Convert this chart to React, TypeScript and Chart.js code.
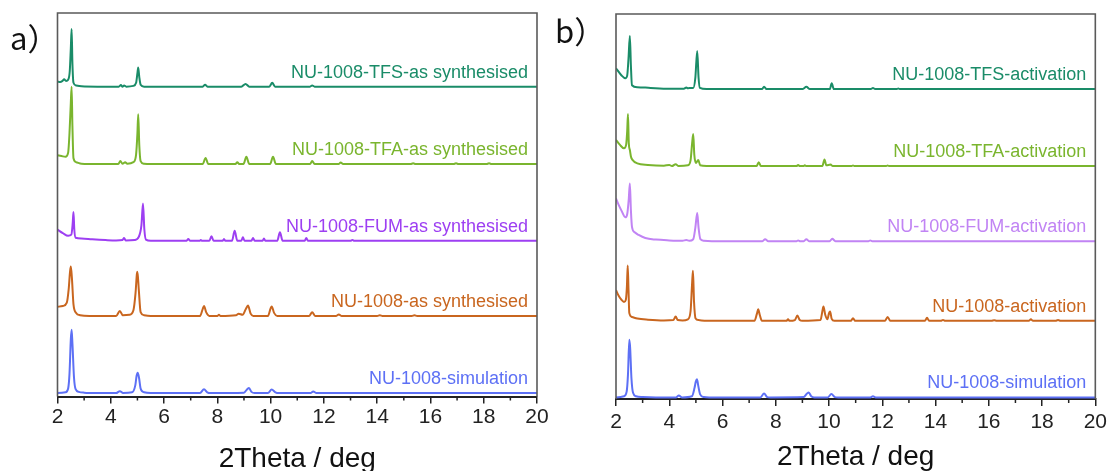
import React, { useEffect, useRef } from "react";
import { Chart, registerables } from "chart.js";

Chart.register(...registerables);

type Pt = [number, number];

// ---------- shared axis values ----------
const xMin = 2;
const xMax = 20;
const xStep = 2;
const xTitle = "2Theta / deg";

// ---------- panel a : as synthesised ----------
const panelALetter = "a）";
const namesA = [
  "NU-1008-TFS-as synthesised",
  "NU-1008-TFA-as synthesised",
  "NU-1008-FUM-as synthesised",
  "NU-1008-as synthesised",
  "NU-1008-simulation",
];
const colorsA = ["#1a8c68", "#7ab52e", "#9d3ff2", "#c9661f", "#5d70f5"];
const offsetsA = [80.8, 60.6, 40.6, 21.0, 0.9];

const aTFS: Pt[] = [
  [2.0, 1.3], [2.1, 1.2], [2.19, 1.5], [2.25, 1.9], [2.32, 1.5], [2.4, 1.8], [2.46, 4.0], [2.5, 10], [2.53, 15.0],
  [2.56, 6], [2.6, 1.0], [2.7, 0.3], [2.9, 0.1], [3.5, 0], [4.3, 0], [4.38, 0.4], [4.44, 0], [4.5, 0.3], [4.58, 0],
  [4.85, 0.2], [4.95, 1.0], [5.0, 3.5], [5.03, 5.0], [5.07, 2.5], [5.12, 0.5], [5.25, 0], [7.45, 0], [7.54, 0.5],
  [7.63, 0], [8.9, 0], [9.06, 0.7], [9.2, 0], [9.95, 0], [10.06, 1.0], [10.17, 0], [11.48, 0], [11.56, 0.3],
  [11.65, 0], [20, 0],
];
const aTFA: Pt[] = [
  [2.0, 2.3], [2.15, 2.1], [2.3, 1.9], [2.4, 3.0], [2.45, 8], [2.5, 16], [2.53, 20.2], [2.56, 10], [2.6, 1.5],
  [2.7, 0.5], [2.9, 0.1], [3.5, 0], [4.28, 0], [4.36, 0.8], [4.44, 0.1], [4.54, 0.5], [4.62, 0.1], [4.85, 0.5],
  [4.95, 2.5], [5.0, 8], [5.03, 13.0], [5.07, 5], [5.12, 0.8], [5.25, 0.1], [5.5, 0], [7.45, 0], [7.56, 1.6],
  [7.66, 0], [8.68, 0], [8.75, 0.5], [8.82, 0], [8.98, 0], [9.09, 1.9], [9.2, 0], [9.98, 0], [10.09, 1.9],
  [10.2, 0], [11.48, 0], [11.56, 0.8], [11.65, 0], [12.55, 0], [12.63, 0.4], [12.72, 0], [15.25, 0],
  [15.35, 0.2], [15.45, 0], [16.86, 0], [16.96, 0.2], [17.06, 0], [18.1, 0], [18.2, 0.2], [18.3, 0], [20, 0],
];
const aFUM: Pt[] = [
  [2.0, 2.9], [2.2, 2.0], [2.4, 1.3], [2.52, 1.6], [2.57, 4.5], [2.6, 7.5], [2.63, 3], [2.68, 0.8], [2.9, 0.6],
  [3.3, 0.4], [3.8, 0.2], [4.2, 0.1], [4.44, 0.2], [4.5, 0.7], [4.56, 0.1], [4.9, 0.2], [5.05, 1.0], [5.15, 4],
  [5.21, 9.7], [5.26, 3], [5.32, 0.3], [5.5, 0], [6.85, 0], [6.91, 0.5], [6.97, 0], [7.33, 0], [7.38, 0.2],
  [7.43, 0], [7.7, 0], [7.78, 1.2], [7.86, 0], [8.2, 0], [8.25, 0.5], [8.3, 0], [8.55, 0], [8.65, 2.6],
  [8.75, 0], [8.9, 0], [8.96, 0.9], [9.02, 0], [9.28, 0], [9.34, 0.7], [9.4, 0], [9.7, 0], [9.75, 0.6],
  [9.8, 0], [10.25, 0], [10.35, 2.2], [10.45, 0], [11.28, 0], [11.34, 0.7], [11.4, 0], [13.0, 0],
  [13.07, 0.2], [13.14, 0], [20, 0],
];
const aAS: Pt[] = [
  [2.0, 2.4], [2.2, 2.6], [2.35, 3.5], [2.42, 7], [2.47, 11.5], [2.5, 12.9], [2.54, 10], [2.6, 3], [2.7, 0.8],
  [2.85, 0.2], [3.2, 0], [4.2, 0], [4.34, 1.3], [4.45, 0.2], [4.7, 0.3], [4.85, 1.5], [4.93, 6], [4.98, 11.0],
  [5.0, 11.5], [5.05, 7], [5.12, 1], [5.25, 0.2], [5.5, 0], [7.35, 0], [7.45, 1.8], [7.5, 2.6], [7.58, 1.0],
  [7.7, 0], [8.0, 0], [8.06, 0.3], [8.12, 0], [8.7, 0.2], [8.8, 0.6], [8.95, 0.3], [9.07, 1.8], [9.15, 2.7],
  [9.25, 0.6], [9.35, 0], [9.9, 0], [10.0, 2.0], [10.04, 2.5], [10.13, 0.8], [10.25, 0], [11.45, 0],
  [11.56, 1.0], [11.67, 0], [12.45, 0], [12.56, 0.4], [12.67, 0], [14.0, 0], [14.1, 0.2], [14.2, 0],
  [15.3, 0], [15.4, 0.2], [15.5, 0], [20, 0],
];
const aSIM: Pt[] = [
  [2.0, 0], [2.3, 0.2], [2.4, 1.2], [2.45, 5], [2.5, 14], [2.53, 16.5], [2.56, 13], [2.62, 4], [2.68, 1],
  [2.8, 0.3], [3.0, 0.1], [3.5, 0], [4.2, 0], [4.34, 0.5], [4.46, 0], [4.8, 0.2], [4.92, 2], [4.97, 4.5],
  [5.01, 5.3], [5.06, 4], [5.12, 1.2], [5.25, 0.2], [5.5, 0], [7.35, 0], [7.5, 1.0], [7.62, 0.2], [7.75, 0],
  [9.0, 0.1], [9.12, 1.0], [9.19, 1.3], [9.28, 0.3], [9.4, 0], [9.9, 0], [10.04, 0.9], [10.18, 0.2],
  [10.3, 0], [11.5, 0], [11.6, 0.4], [11.72, 0], [20, 0],
];

// ---------- panel b : activation ----------
const panelBLetter = "b）";
const namesB = [
  "NU-1008-TFS-activation",
  "NU-1008-TFA-activation",
  "NU-1008-FUM-activation",
  "NU-1008-activation",
  "NU-1008-simulation",
];
const colorsB = ["#1a8c68", "#7ab52e", "#c184f4", "#c9661f", "#5d70f5"];
const offsetsB = [80.5, 60.5, 41.0, 20.3, 0.4];

const bTFS: Pt[] = [
  [2.0, 5.4], [2.2, 3.6], [2.35, 2.8], [2.42, 3.5], [2.47, 8], [2.52, 13.8], [2.56, 6], [2.6, 1.0], [2.8, 0.5],
  [3.3, 0.3], [4.0, 0.1], [4.55, 0.1], [4.64, 0.4], [4.7, 0.2], [4.75, 0.3], [4.9, 0.3], [4.98, 3],
  [5.05, 9.9], [5.1, 3], [5.15, 0.3], [5.4, 0], [7.48, 0], [7.56, 0.6], [7.65, 0], [9.0, 0], [9.15, 0.6],
  [9.28, 0], [10.03, 0], [10.1, 1.5], [10.18, 0], [11.57, 0], [11.65, 0.3], [11.73, 0], [12.55, 0],
  [12.6, 0.15], [12.65, 0], [20, 0],
];
const bTFA: Pt[] = [
  [2.0, 6.8], [2.15, 5.5], [2.3, 4.6], [2.38, 5.5], [2.42, 9], [2.45, 13.5], [2.48, 6], [2.52, 4.2],
  [2.56, 2.5], [2.62, 1.6], [2.8, 0.7], [3.2, 0.3], [3.8, 0.1], [4.0, 0.3], [4.1, 0], [4.24, 0.5], [4.35, 0],
  [4.7, 0.2], [4.8, 1.5], [4.86, 6], [4.9, 8.3], [4.94, 3], [5.0, 0.8], [5.09, 1.6], [5.16, 0.2], [5.4, 0],
  [7.28, 0], [7.36, 1.0], [7.44, 0], [8.78, 0], [8.84, 0.3], [8.9, 0], [9.04, 0], [9.09, 0.2], [9.15, 0],
  [9.75, 0], [9.83, 1.7], [9.9, 0.2], [10.06, 0.4], [10.14, 0], [10.85, 0], [10.9, 0.15], [10.95, 0],
  [12.15, 0], [12.2, 0.15], [12.25, 0], [20, 0],
];
const bFUM: Pt[] = [
  [2.0, 11.1], [2.1, 9.4], [2.2, 8], [2.35, 6.2], [2.42, 7], [2.48, 11], [2.52, 15.0], [2.56, 8], [2.6, 3.7],
  [2.7, 2.3], [2.85, 1.6], [3.1, 0.8], [3.5, 0.4], [4.0, 0.2], [4.5, 0.1], [4.64, 0.3], [4.75, 0.1],
  [4.9, 0.5], [4.98, 3.5], [5.05, 7.3], [5.1, 3.5], [5.17, 0.5], [5.3, 0.1], [5.6, 0], [7.5, 0], [7.6, 0.5],
  [7.72, 0], [8.78, 0], [8.84, 0.2], [8.92, 0], [9.05, 0], [9.15, 0.5], [9.25, 0], [10.02, 0], [10.12, 0.6],
  [10.24, 0], [11.48, 0], [11.55, 0.2], [11.62, 0], [20, 0],
];
const bACT: Pt[] = [
  [2.0, 8.0], [2.1, 6.5], [2.2, 5.5], [2.3, 4.9], [2.37, 5.5], [2.41, 9], [2.44, 14.4], [2.47, 8], [2.5, 2.0],
  [2.6, 1.0], [2.8, 0.6], [3.2, 0.3], [3.8, 0.1], [4.15, 0.2], [4.24, 1.1], [4.32, 0.2], [4.5, 0.1],
  [4.7, 0.4], [4.8, 2.5], [4.86, 10], [4.89, 13.0], [4.93, 5], [4.99, 0.6], [5.1, 0.2], [5.4, 0], [7.2, 0],
  [7.29, 1.8], [7.34, 3.0], [7.4, 1.5], [7.48, 0], [8.4, 0], [8.46, 0.4], [8.52, 0], [8.72, 0.2], [8.81, 1.4],
  [8.9, 0.2], [9.0, 0], [9.68, 0.2], [9.75, 2.5], [9.79, 3.7], [9.86, 1.5], [9.94, 0.4], [10.0, 2.0],
  [10.04, 2.4], [10.1, 0.5], [10.2, 0], [10.82, 0], [10.9, 0.7], [10.98, 0], [12.1, 0], [12.2, 1.0], [12.3, 0],
  [13.6, 0], [13.68, 0.8], [13.76, 0], [14.2, 0], [14.28, 0.2], [14.36, 0], [16.1, 0], [16.2, 0.15], [16.3, 0],
  [17.5, 0], [17.58, 0.4], [17.66, 0], [18.5, 0], [18.6, 0.2], [18.7, 0], [20, 0],
];
const bSIM: Pt[] = [
  [2.0, 0], [2.3, 0.3], [2.4, 1.5], [2.45, 6], [2.5, 15.0], [2.53, 13], [2.58, 5], [2.64, 1.2], [2.75, 0.3],
  [3.0, 0.1], [3.5, 0], [4.25, 0], [4.36, 0.5], [4.48, 0], [4.85, 0.3], [4.95, 2.5], [5.0, 4.2], [5.04, 4.7],
  [5.09, 3], [5.16, 0.8], [5.3, 0.1], [5.5, 0], [7.42, 0], [7.56, 1.0], [7.68, 0.1], [7.8, 0], [9.05, 0.1],
  [9.17, 1.0], [9.24, 1.3], [9.33, 0.3], [9.45, 0], [9.95, 0], [10.09, 0.9], [10.22, 0.1], [10.35, 0],
  [11.55, 0], [11.65, 0.3], [11.75, 0], [20, 0],
];

const seriesA = [aTFS, aTFA, aFUM, aAS, aSIM];
const seriesB = [bTFS, bTFA, bFUM, bACT, bSIM];

const SANS = '"Liberation Sans", Arial, sans-serif';

type PanelProps = {
  left: number;
  width: number;
  height: number;
  pad: { left: number; right: number; top: number };
  axisHeight: number;
  tickPad: number;
  titlePad: number;
  letter: string;
  letterPos: [number, number];
  names: string[];
  colors: string[];
  offsets: number[];
  series: Pt[][];
};

function Panel(p: PanelProps) {
  const ref = useRef<HTMLCanvasElement | null>(null);
  useEffect(() => {
    if (!ref.current) return;
    const decor = {
      id: "decor",
      afterDatasetsDraw(chart: any) {
        const { ctx, scales } = chart;
        const xs = scales.x;
        const ys = scales.y;
        ctx.save();
        ctx.font = `18px ${SANS}`;
        ctx.textAlign = "right";
        ctx.textBaseline = "alphabetic";
        p.names.forEach((n, i) => {
          ctx.fillStyle = p.colors[i];
          ctx.fillText(n, xs.getPixelForValue(xMax) - 9, ys.getPixelForValue(p.offsets[i]) - 9);
        });
        ctx.restore();
      },
      afterDraw(chart: any) {
        const { ctx, chartArea, scales } = chart;
        const xs = scales.x;
        ctx.save();
        ctx.strokeStyle = "#5a5a5a";
        ctx.lineWidth = 1.6;
        ctx.beginPath();
        ctx.moveTo(chartArea.left, chartArea.bottom);
        ctx.lineTo(chartArea.left, chartArea.top);
        ctx.lineTo(chartArea.right, chartArea.top);
        ctx.lineTo(chartArea.right, chartArea.bottom);
        ctx.stroke();
        ctx.strokeStyle = "#222";
        ctx.lineWidth = 1.5;
        for (let v = xMin + xStep / 2; v < xMax; v += xStep) {
          const px = xs.getPixelForValue(v);
          ctx.beginPath();
          ctx.moveTo(px, chartArea.bottom);
          ctx.lineTo(px, chartArea.bottom + 4);
          ctx.stroke();
        }
        ctx.fillStyle = "#111";
        ctx.font = '31px "Noto Sans CJK SC", "Noto Sans", sans-serif';
        ctx.textAlign = "left";
        ctx.textBaseline = "alphabetic";
        ctx.fillText(p.letter, p.letterPos[0], p.letterPos[1]);
        ctx.restore();
      },
    };
    const chart = new Chart(ref.current, {
      type: "line",
      data: {
        datasets: p.series.map((s, i) => ({
          label: p.names[i],
          data: s.map(([x, y]) => ({ x, y: y + p.offsets[i] })),
          borderColor: p.colors[i],
          borderWidth: 2,
          pointRadius: 0,
          cubicInterpolationMode: "monotone",
          fill: false,
        })),
      },
      options: {
        animation: false,
        responsive: false,
        maintainAspectRatio: false,
        layout: { padding: { left: p.pad.left, right: p.pad.right, top: p.pad.top, bottom: 0 } },
        plugins: { legend: { display: false }, tooltip: { enabled: false } },
        scales: {
          x: {
            type: "linear",
            min: xMin,
            max: xMax,
            ticks: {
              stepSize: xStep,
              autoSkip: false,
              maxRotation: 0,
              padding: p.tickPad,
              color: "#222",
              font: { family: SANS, size: 21 },
            },
            grid: { drawOnChartArea: false, drawTicks: true, tickLength: 7, color: "#222", lineWidth: 1.5 },
            border: { display: true, color: "#222", width: 2 },
            title: {
              display: true,
              text: xTitle,
              color: "#111",
              font: { family: SANS, size: 28 },
              padding: { top: 0, bottom: p.titlePad },
            },
            afterFit: (s: any) => {
              s.height = p.axisHeight;
            },
          },
          y: { display: false, min: 0, max: 100 },
        },
      },
      plugins: [decor],
    } as any);
    return () => chart.destroy();
  }, []);
  return (
    <canvas
      ref={ref}
      width={p.width}
      height={p.height}
      style={{ position: "absolute", left: p.left, top: 0, width: p.width, height: p.height }}
    />
  );
}

export default function App() {
  return (
    <div
      style={{
        position: "fixed",
        left: 0,
        top: 0,
        width: 1111,
        height: 471,
        overflow: "hidden",
        background: "#fff",
      }}
    >
      <Panel
        left={0}
        width={580}
        height={500}
        pad={{ left: 57.5, right: 43, top: 13 }}
        axisHeight={103.5}
        tickPad={1}
        titlePad={24}
        letter={panelALetter}
        letterPos={[10, 50]}
        names={namesA}
        colors={colorsA}
        offsets={offsetsA}
        series={seriesA}
      />
      <Panel
        left={545}
        width={566}
        height={500}
        pad={{ left: 71, right: 15, top: 14 }}
        axisHeight={101}
        tickPad={4}
        titlePad={26}
        letter={panelBLetter}
        letterPos={[10, 43]}
        names={namesB}
        colors={colorsB}
        offsets={offsetsB}
        series={seriesB}
      />
    </div>
  );
}
